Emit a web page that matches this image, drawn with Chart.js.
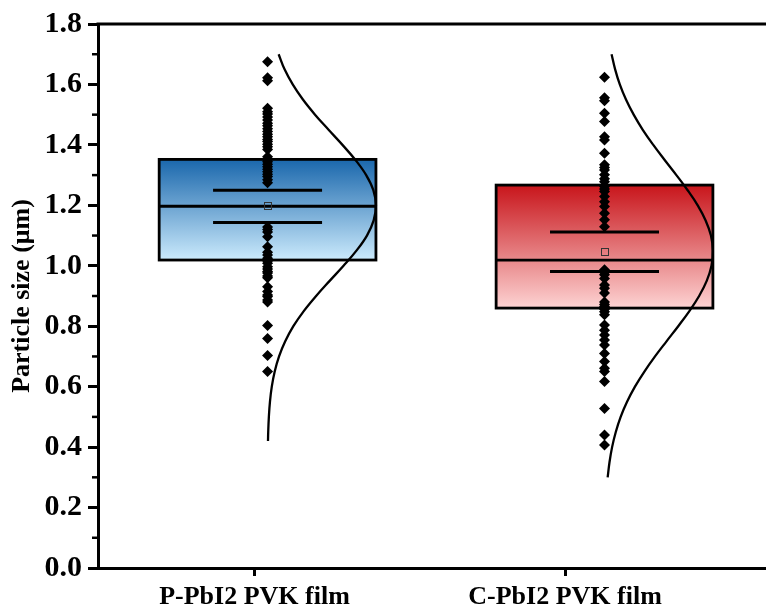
<!DOCTYPE html>
<html>
<head>
<meta charset="utf-8">
<script src="https://cdn.jsdelivr.net/npm/chart.js@4.4.1/dist/chart.umd.min.js"></script>
<style>
  html, body { margin: 0; padding: 0; background: #ffffff; overflow: hidden; }
  canvas { display: block; }
</style>
</head>
<body>
<canvas id="chart" width="766" height="614"></canvas>
<script>
// ---- data ----
const categories = ['P-PbI2 PVK film', 'C-PbI2 PVK film'];
const yTickValues = [0, 0.2, 0.4, 0.6, 0.8, 1.0, 1.2, 1.4, 1.6, 1.8];

// measured particle sizes (µm)
const sizesP = [
  1.675, 1.622, 1.612,
  1.521, 1.510, 1.502, 1.492, 1.482, 1.472, 1.463, 1.453, 1.444, 1.435, 1.427, 1.418, 1.411, 1.402, 1.394, 1.385,
  1.361, 1.352, 1.344, 1.336, 1.328, 1.319, 1.311, 1.303, 1.295, 1.285, 1.275,
  1.128, 1.120, 1.112, 1.096, 1.063, 1.045, 1.036, 1.025, 1.016, 1.008, 0.997, 0.989, 0.981, 0.976, 0.966, 0.960,
  0.931, 0.915, 0.903, 0.898, 0.887, 0.880,
  0.802, 0.759, 0.703, 0.650
];
const sizesC = [
  1.624, 1.556, 1.546, 1.505, 1.477, 1.427, 1.416, 1.372,
  1.334, 1.325, 1.317, 1.301, 1.288, 1.278, 1.262, 1.254, 1.246, 1.229, 1.212, 1.196, 1.174, 1.152, 1.129,
  0.987, 0.978, 0.970, 0.958, 0.936, 0.926, 0.910, 0.880, 0.872, 0.865, 0.856, 0.848, 0.838,
  0.804, 0.787, 0.771, 0.754, 0.738, 0.710, 0.683, 0.661, 0.650, 0.617, 0.528, 0.440, 0.407
];

// box statistics per group
const q1     = [1.019, 0.860];
const median = [1.197, 1.019];
const q3     = [1.352, 1.267];
const mean   = [1.198, 1.047];
const ciLow  = [1.143, 0.981];
const ciHigh = [1.250, 1.112];

// normal distribution curves: size (µm) and relative density (peak = 1)
const curveSizesP = [0.42, 0.45, 0.50, 0.55, 0.60, 0.65, 0.70, 0.75, 0.80, 0.85, 0.90, 0.95, 1.00, 1.05, 1.10, 1.15, 1.20,
                     1.25, 1.30, 1.35, 1.40, 1.45, 1.50, 1.55, 1.60, 1.65, 1.70];
const curveDensityP = [0.004, 0.006, 0.012, 0.022, 0.039, 0.066, 0.106, 0.163, 0.238, 0.334, 0.448, 0.573, 0.701, 0.820, 0.917, 0.979, 1.000,
                       0.976, 0.910, 0.811, 0.691, 0.563, 0.438, 0.326, 0.232, 0.157, 0.102];
const curveSizesC = [0.30, 0.35, 0.40, 0.45, 0.50, 0.55, 0.60, 0.65, 0.70, 0.75, 0.80, 0.85, 0.90, 0.95, 1.00, 1.05,
                     1.10, 1.15, 1.20, 1.25, 1.30, 1.35, 1.40, 1.45, 1.50, 1.55, 1.60, 1.65, 1.70];
const curveDensityC = [0.029, 0.046, 0.070, 0.104, 0.149, 0.208, 0.281, 0.368, 0.466, 0.572, 0.680, 0.783, 0.873, 0.943, 0.987, 1.000,
                       0.982, 0.933, 0.860, 0.767, 0.663, 0.555, 0.450, 0.353, 0.269, 0.198, 0.141, 0.098, 0.065];

// ---- layout ----
const FONT = '"Liberation Serif", "Times New Roman", serif';
const X_MIN = 0.496, X_MAX = 2.647;
const groupX = [1.042, 2.127];   // centre of each box / scatter column
const BOX_HALF = 0.349;          // half width of a box (x units)
const CI_HALF = 0.1755;          // half length of the interval bars

const gradients = [
  ['#1a67ac', '#cbeafc'],
  ['#c8151b', '#fdd3d3']
];

function curveData(sizes, dens, g) {
  return sizes.map((s, i) => ({ x: groupX[g] + dens[i] * BOX_HALF, y: s }));
}
function pointData(sizes, g) {
  return sizes.map(s => ({ x: groupX[g], y: s }));
}

const boxPlugin = {
  id: 'boxes',
  beforeDatasetsDraw(chart) {
    const { ctx, scales: { x, y } } = chart;
    ctx.save();
    for (let g = 0; g < 2; g++) {
      const l = x.getPixelForValue(groupX[g] - BOX_HALF);
      const r = x.getPixelForValue(groupX[g] + BOX_HALF);
      const t = y.getPixelForValue(q3[g]);
      const b = y.getPixelForValue(q1[g]);
      const grad = ctx.createLinearGradient(0, t, 0, b);
      grad.addColorStop(0, gradients[g][0]);
      grad.addColorStop(1, gradients[g][1]);
      ctx.fillStyle = grad;
      ctx.fillRect(l, t, r - l, b - t);
      ctx.strokeStyle = '#000';
      ctx.lineWidth = 2.8;
      ctx.strokeRect(l, t, r - l, b - t);
      // median
      const m = y.getPixelForValue(median[g]);
      ctx.beginPath();
      ctx.moveTo(l, m); ctx.lineTo(r, m);
      ctx.stroke();
      // interval bars
      ctx.lineWidth = 3;
      const cl = x.getPixelForValue(groupX[g] - CI_HALF);
      const cr = x.getPixelForValue(groupX[g] + CI_HALF);
      [ciLow[g], ciHigh[g]].forEach(v => {
        const py = y.getPixelForValue(v);
        ctx.beginPath();
        ctx.moveTo(cl, py); ctx.lineTo(cr, py);
        ctx.stroke();
      });
      // mean marker
      const mx = x.getPixelForValue(groupX[g]);
      const my = y.getPixelForValue(mean[g]);
      ctx.lineWidth = 1;
      ctx.strokeStyle = '#333';
      ctx.strokeRect(Math.round(mx) - 3.5, Math.round(my) - 3.5, 7, 7);
    }
    ctx.restore();
  }
};

const framePlugin = {
  id: 'frame',
  afterDraw(chart) {
    const { ctx, chartArea: a, scales: { y } } = chart;
    ctx.save();
    ctx.strokeStyle = '#000';
    ctx.lineWidth = 3;
    ctx.beginPath();
    ctx.moveTo(a.left - 1.5, a.top);
    ctx.lineTo(chart.width, a.top);
    ctx.stroke();
    // minor ticks on the y axis
    ctx.lineWidth = 2.5;
    for (let k = 0; k < yTickValues.length - 1; k++) {
      const v = (yTickValues[k] + yTickValues[k + 1]) / 2;
      const py = y.getPixelForValue(v);
      ctx.beginPath();
      ctx.moveTo(a.left - 6, py);
      ctx.lineTo(a.left, py);
      ctx.stroke();
    }
    ctx.restore();
  }
};

new Chart(document.getElementById('chart'), {
  type: 'scatter',
  data: {
    datasets: [
      { type: 'scatter', data: pointData(sizesP, 0), pointStyle: 'rectRot', pointRadius: 5.5,
        backgroundColor: '#000', borderColor: '#000', borderWidth: 0, order: 0 },
      { type: 'scatter', data: pointData(sizesC, 1), pointStyle: 'rectRot', pointRadius: 5.5,
        backgroundColor: '#000', borderColor: '#000', borderWidth: 0, order: 0 },
      { type: 'line', data: curveData(curveSizesP, curveDensityP, 0), borderColor: '#000', borderWidth: 2.3,
        pointRadius: 0, tension: 0.4, fill: false, order: 1 },
      { type: 'line', data: curveData(curveSizesC, curveDensityC, 1), borderColor: '#000', borderWidth: 2.3,
        pointRadius: 0, tension: 0.4, fill: false, order: 1 }
    ]
  },
  options: {
    responsive: false,
    animation: false,
    devicePixelRatio: 1,
    layout: { autoPadding: false, padding: { top: 24, right: 0, bottom: 0, left: 0 } },
    plugins: { legend: { display: false }, tooltip: { enabled: false } },
    scales: {
      x: {
        type: 'linear', min: X_MIN, max: X_MAX,
        afterBuildTicks: s => { s.ticks = [{ value: 1 }, { value: 2 }]; },
        afterFit: s => { s.height = 46; },
        ticks: {
          callback: v => categories[Math.round(v) - 1] || '',
          color: '#000', font: { family: FONT, size: 26, weight: 'bold' },
          padding: 6, autoSkip: false, maxRotation: 0
        },
        grid: { drawOnChartArea: false, drawTicks: true, tickLength: 8, tickWidth: 3, tickColor: '#000' },
        border: { display: true, color: '#000', width: 3 }
      },
      y: {
        type: 'linear', min: 0, max: 1.8,
        afterBuildTicks: s => { s.ticks = yTickValues.map(v => ({ value: v })); },
        afterFit: s => { s.width = 98; },
        ticks: {
          callback: v => Number(v).toFixed(1),
          color: '#000', font: { family: FONT, size: 30, weight: 'bold' }, padding: 6
        },
        grid: { drawOnChartArea: false, drawTicks: true, tickLength: 10, tickWidth: 3, tickColor: '#000' },
        border: { display: true, color: '#000', width: 3 },
        title: {
          display: true, text: 'Particle size (μm)', color: '#000',
          font: { family: FONT, size: 26, weight: 'bold' }, padding: { top: 7, bottom: 0 }
        }
      }
    }
  },
  plugins: [boxPlugin, framePlugin]
});
</script>
</body>
</html>
